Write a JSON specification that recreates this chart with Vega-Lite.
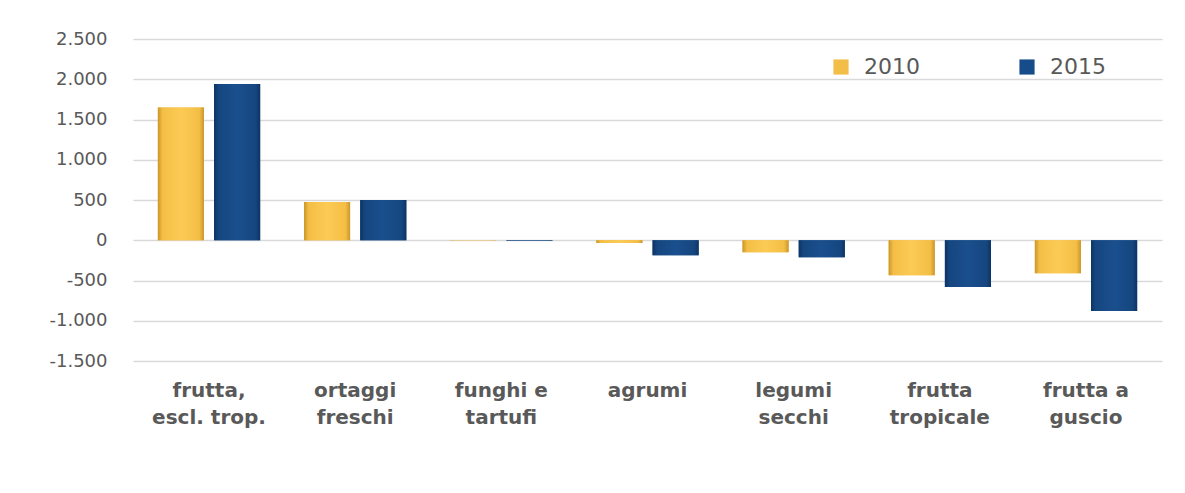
{
  "$schema": "https://vega.github.io/schema/vega-lite/v6.json",
  "width": 1029,
  "height": 322,
  "autosize": "none",
  "padding": {"left": 133, "top": 39, "right": 23, "bottom": 93},
  "background": "white",
  "config": {
    "view": {"stroke": null},
    "font": "DejaVu Sans",
    "axis": {"domain": false, "ticks": false, "labelColor": "#595959"}
  },
  "data": {
    "values": [
      {"categoria": "frutta, escl. trop.", "anno": "2010", "valore": 1650},
      {"categoria": "frutta, escl. trop.", "anno": "2015", "valore": 1940},
      {"categoria": "ortaggi freschi", "anno": "2010", "valore": 475},
      {"categoria": "ortaggi freschi", "anno": "2015", "valore": 500},
      {"categoria": "funghi e tartufi", "anno": "2010", "valore": -4},
      {"categoria": "funghi e tartufi", "anno": "2015", "valore": -5},
      {"categoria": "agrumi", "anno": "2010", "valore": -35},
      {"categoria": "agrumi", "anno": "2015", "valore": -185},
      {"categoria": "legumi secchi", "anno": "2010", "valore": -150},
      {"categoria": "legumi secchi", "anno": "2015", "valore": -210},
      {"categoria": "frutta tropicale", "anno": "2010", "valore": -435},
      {"categoria": "frutta tropicale", "anno": "2015", "valore": -580},
      {"categoria": "frutta a guscio", "anno": "2010", "valore": -410},
      {"categoria": "frutta a guscio", "anno": "2015", "valore": -880}
    ]
  },
  "encoding": {
    "x": {
      "field": "categoria",
      "type": "nominal",
      "sort": null,
      "title": null,
      "scale": {"paddingInner": 0.3, "paddingOuter": 0.17},
      "axis": {
        "labelAngle": 0,
        "labelFontSize": 20,
        "labelFontWeight": "bold",
        "labelPadding": 19,
        "labelLineHeight": 27,
        "labelBaseline": "top",
        "grid": false,
        "labelExpr": "{'frutta, escl. trop.': ['frutta,', 'escl. trop.'], 'ortaggi freschi': ['ortaggi', 'freschi'], 'funghi e tartufi': ['funghi e', 'tartufi'], 'agrumi': ['agrumi'], 'legumi secchi': ['legumi', 'secchi'], 'frutta tropicale': ['frutta', 'tropicale'], 'frutta a guscio': ['frutta a', 'guscio']}[datum.label]"
      }
    },
    "xOffset": {"field": "anno", "type": "nominal", "scale": {"paddingInner": 0.18}},
    "y": {
      "field": "valore",
      "type": "quantitative",
      "title": null,
      "scale": {"domain": [-1500, 2500], "nice": false},
      "axis": {
        "values": [-1500, -1000, -500, 0, 500, 1000, 1500, 2000, 2500],
        "labelFontSize": 18,
        "labelPadding": 26,
        "gridColor": "#D9D9D9",
        "gridWidth": 1.5,
        "labelExpr": "replace(replace(format(datum.value, ','), ',', '.'), '\u2212', '-')"
      }
    }
  },
  "layer": [
    {
      "mark": {"type": "bar", "opacity": 1},
      "encoding": {
        "color": {
          "field": "anno",
          "type": "nominal",
          "title": null,
          "scale": {"domain": ["2010", "2015"], "range": ["#F2BE48", "#174C8A"]},
          "legend": {
            "orient": "none",
            "legendX": 697,
            "legendY": 17,
            "direction": "horizontal",
            "columns": 2,
            "columnPadding": 96,
            "symbolType": "square",
            "symbolSize": 230,
            "symbolStrokeWidth": 0,
            "labelFontSize": 22,
            "labelColor": "#595959",
            "labelOffset": 12
          }
        }
      }
    },
    {
      "mark": {"type": "bar"},
      "encoding": {
        "color": {
          "condition": {
            "test": "datum.anno == '2010'",
            "value": {
              "gradient": "linear", "x1": 0, "x2": 1, "y1": 0, "y2": 0,
              "stops": [
                {"offset": 0, "color": "#C9962A"},
                {"offset": 0.1, "color": "#F4BE45"},
                {"offset": 0.5, "color": "#FCCB55"},
                {"offset": 0.9, "color": "#F4BE45"},
                {"offset": 1, "color": "#C9962A"}
              ]
            }
          },
          "value": {
            "gradient": "linear", "x1": 0, "x2": 1, "y1": 0, "y2": 0,
            "stops": [
              {"offset": 0, "color": "#0D3364"},
              {"offset": 0.1, "color": "#15467F"},
              {"offset": 0.5, "color": "#1A4F8E"},
              {"offset": 0.9, "color": "#15467F"},
              {"offset": 1, "color": "#0D3364"}
            ]
          }
        }
      }
    }
  ]
}
